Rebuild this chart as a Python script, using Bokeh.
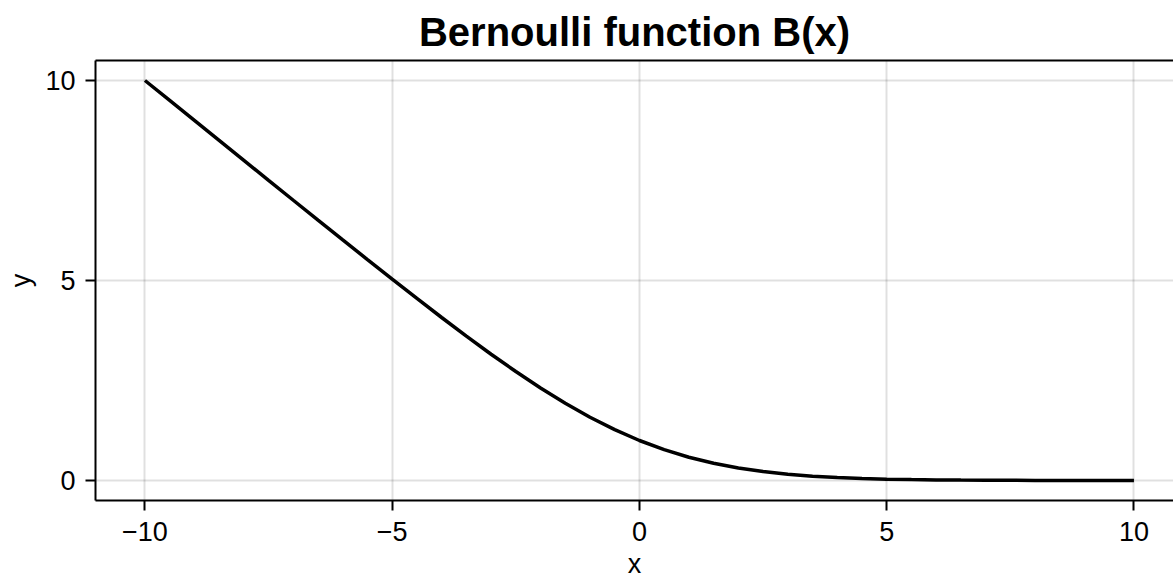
from bokeh.plotting import figure
from bokeh.models import Range1d, FixedTicker, LinearAxis
from bokeh.embed import file_html
from bokeh.resources import INLINE

# Values
x_vals = [-10, -9.5, -9, -8.5, -8, -7.5, -7, -6.5, -6, -5.5, -5, -4.5, -4, -3.5, -3,
          -2.5, -2, -1.5, -1, -0.5, 0, 0.5, 1, 1.5, 2, 2.5, 3, 3.5, 4, 4.5, 5,
          5.5, 6, 6.5, 7, 7.5, 8, 8.5, 9, 9.5, 10]
y_vals = [10.0, 9.501, 9.001, 8.502, 8.003, 7.504, 7.006, 6.510, 6.015, 5.523, 5.034,
          4.551, 4.075, 3.609, 3.157, 2.724, 2.313, 1.931, 1.582, 1.271, 1.0,
          0.771, 0.582, 0.431, 0.313, 0.224, 0.157, 0.109, 0.075, 0.051, 0.034,
          0.023, 0.015, 0.010, 0.006, 0.004, 0.003, 0.002, 0.001, 0.001, 0.0005]
x_ticks = [-10, -5, 0, 5, 10]
y_ticks = [0, 5, 10]
title_text = "Bernoulli function B(x)"
x_label = "x"
y_label = "y"

FONT = "Liberation Sans"

p = figure(width=1173, height=581, output_backend="svg", toolbar_location=None,
           x_range=Range1d(-11, 10.8), y_range=Range1d(-0.5, 10.5),
           min_border_left=95, min_border_right=0, min_border_top=60, min_border_bottom=81)

p.outline_line_color = None
p.title.text = title_text
p.title.text_font = FONT
p.title.text_font_size = "40px"
p.title.text_font_style = "bold"
p.title.text_color = "black"
p.title.align = "center"
p.title.offset = 5
p.title.standoff = 14

for ax in (p.xaxis[0], p.yaxis[0]):
    ax.axis_line_width = 2
    ax.axis_line_color = "black"
    ax.major_tick_line_width = 2
    ax.major_tick_out = 10
    ax.major_tick_in = 0
    ax.minor_tick_out = 0
    ax.minor_tick_in = 0
    ax.major_label_text_font = FONT
    ax.major_label_text_font_size = "27px"
    ax.major_label_text_color = "black"
    ax.axis_label_text_font = FONT
    ax.axis_label_text_font_size = "27px"
    ax.axis_label_text_font_style = "normal"
    ax.axis_label_text_color = "black"

p.xaxis[0].ticker = FixedTicker(ticks=x_ticks)
p.yaxis[0].ticker = FixedTicker(ticks=y_ticks)
p.yaxis[0].axis_label = y_label
p.xaxis[0].axis_label = x_label
p.xaxis[0].major_label_standoff = 11
p.xaxis[0].axis_label_standoff = 5
p.xaxis[0].axis_label_text_line_height = 0.8
p.yaxis[0].major_label_standoff = 10
p.yaxis[0].axis_label_standoff = 6

top = LinearAxis(ticker=FixedTicker(ticks=[]), axis_line_width=2, axis_line_color="black",
                 major_tick_out=0, major_tick_in=0, minor_tick_out=0, minor_tick_in=0,
                 major_label_text_font_size="0px")
p.add_layout(top, "above")

p.xgrid.ticker = FixedTicker(ticks=x_ticks)
p.ygrid.ticker = FixedTicker(ticks=y_ticks)
for g in (p.xgrid[0], p.ygrid[0]):
    g.grid_line_color = "black"
    g.grid_line_alpha = 0.12
    g.grid_line_width = 2

p.line(x_vals, y_vals, line_color="black", line_width=3.5)

open("out.html", "w").write(file_html(p, INLINE))
